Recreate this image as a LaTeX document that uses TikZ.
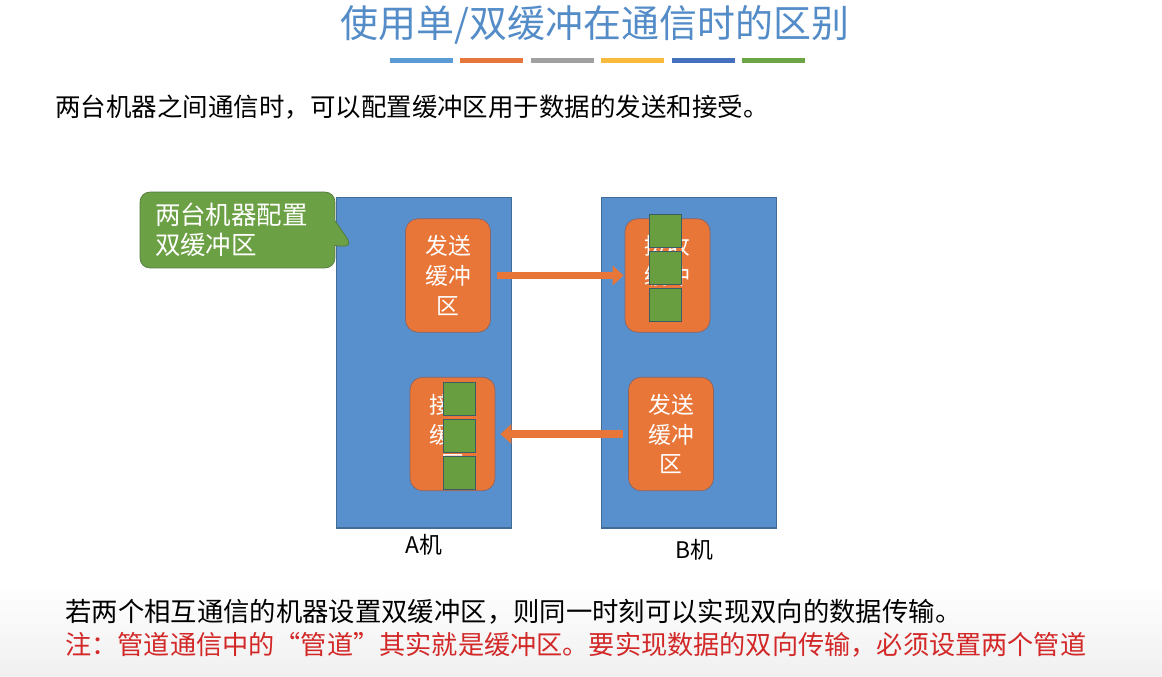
\documentclass[tikz,border=0pt]{standalone}
\usepackage{fontspec}
\setmainfont{Noto Sans CJK SC}
\usepackage{tikz}
\usetikzlibrary{positioning,arrows.meta,shapes.callouts}
\usepackage{xcolor}
\definecolor{MachBlue}{RGB}{88,144,205}
\definecolor{MachEdge}{RGB}{66,108,150}
\definecolor{BufOrange}{RGB}{232,118,56}
\definecolor{BufEdge}{RGB}{140,100,100}
\definecolor{SlotGreen}{RGB}{104,158,64}
\definecolor{SlotEdge}{RGB}{60,92,100}
\definecolor{NoteGreen}{RGB}{108,160,68}
\definecolor{NoteEdge}{RGB}{82,120,60}
\definecolor{TitleBlue}{RGB}{84,140,200}
\definecolor{NoteRed}{RGB}{210,40,40}
\definecolor{BarBlue}{RGB}{91,155,213}
\definecolor{BarOrange}{RGB}{230,118,60}
\definecolor{BarGray}{RGB}{160,160,160}
\definecolor{BarYellow}{RGB}{248,186,60}
\definecolor{BarNavy}{RGB}{68,112,190}
\definecolor{BarGreen}{RGB}{108,165,70}

\begin{document}
\begin{tikzpicture}[x=0.02cm, y=-0.02cm,
    machine/.style={rectangle, draw=MachEdge, fill=MachBlue, line width=0.6pt,
                    minimum width=3.5cm, minimum height=6.62cm},
    buffer/.style={rectangle, draw=BufEdge, fill=BufOrange, rounded corners=0.25cm,
                   minimum width=1.7cm, minimum height=2.27cm, inner sep=0pt,
                   text=white, align=center, font=\fontsize{13}{17}\selectfont},
    slot/.style={rectangle, draw=SlotEdge, fill=SlotGreen, inner sep=0pt,
                 minimum width=0.64cm, minimum height=0.66cm},
    flow/.style={draw=BufOrange, line width=4.5pt, -{Triangle[length=0.22cm, width=0.38cm]}},
    bubble/.style={rectangle callout, fill=NoteGreen, draw=NoteEdge, rounded corners=0.2cm,
                   minimum width=3.9cm, minimum height=1.52cm, inner xsep=0.3cm,
                   text width=3.3cm, align=left, text=white,
                   callout pointer width=0.5cm, font=\fontsize{14.5}{17}\selectfont},
    textline/.style={anchor=west, inner sep=0pt, font=\fontsize{14.5}{17}\selectfont},
    tag/.style={inner sep=0pt, font=\fontsize{13}{15}\selectfont}
]
    \useasboundingbox (0,0) rectangle (1162,676);
    \shade[top color=white, bottom color=black!6] (0,585) rectangle (1162,676);

    % title and colour bars
    \node[font=\fontsize{21.6}{25}\selectfont, text=TitleBlue] (title) at (595,25) {使用单/双缓冲在通信时的区别};
    \foreach \c [count=\i from 0] in {BarBlue,BarOrange,BarGray,BarYellow,BarNavy,BarGreen}
        \draw[draw=\c, line width=0.1cm] (390+70.4*\i,60) -- ++(63,0);

    \node[textline] (intro) at (55,107) {两台机器之间通信时，可以配置缓冲区用于数据的发送和接受。};

    % the two machines
    \node[machine] (machA) at (424,362.5) {};
    \node[machine, right=1.78cm of machA] (machB) {};
    \node[tag, below=0.11cm of machA] (labA) {A机};
    \node[tag, below=0.21cm of machB, xshift=0.11cm] (labB) {B机};

    \node[buffer] (sendA) at (448,275.5) {发送\\缓冲\\区};
    \node[buffer] (recvB) at (667.5,275.5) {接收\\缓冲\\区};
    \node[buffer] (recvA) at (452.5,434) {接收\\缓冲\\区};
    \node[buffer] (sendB) at (671,434) {发送\\缓冲\\区};

    % data blocks in the receive buffers
    \node[slot] (b1) at (665,231) {};
    \node[slot, below=0.06cm of b1] (b2) {};
    \node[slot, below=0.06cm of b2] (b3) {};
    \node[slot] (a1) at (459.5,399) {};
    \node[slot, below=0.06cm of a1] (a2) {};
    \node[slot, below=0.06cm of a2] (a3) {};

    \draw[flow, shorten <=0.12cm, shorten >=0.02cm] (sendA) -- (recvB);
    \draw[flow, shorten <=0.1cm, shorten >=0.1cm] (sendB) -- (recvA);

    \node[bubble, callout absolute pointer={(353,247)}] (note) at (237.5,230) {两台机器配置\\双缓冲区};

    \node[textline, font=\fontsize{15}{17}\selectfont] (sum) at (65,612) {若两个相互通信的机器设置双缓冲区，则同一时刻可以实现双向的数据传输。};
    \node[textline, font=\fontsize{14.9}{17}\selectfont, text=NoteRed] (warn) at (65,645) {注：管道通信中的“管道”其实就是缓冲区。要实现数据的双向传输，必须设置两个管道};
\end{tikzpicture}
\end{document}
